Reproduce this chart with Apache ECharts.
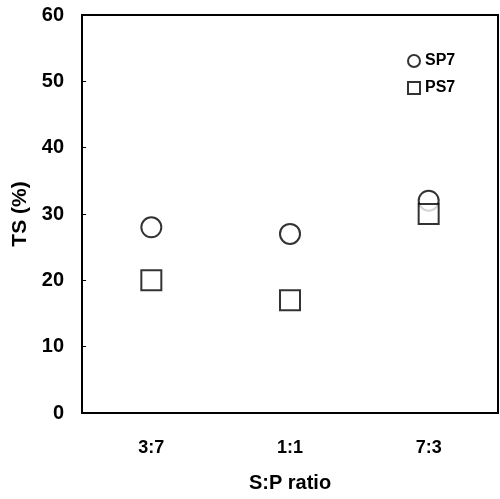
<!DOCTYPE html>
<html>
<head>
<meta charset="utf-8">
<script src="https://cdn.jsdelivr.net/npm/echarts@6/dist/echarts.min.js"></script>
<style>
  html, body { margin: 0; padding: 0; background: #fff; }
  #chart { width: 500px; height: 499px; }
</style>
</head>
<body>
<div id="chart"></div>
<script>
// S:P ratio categories
const categories = ['3:7', '1:1', '7:3'];
// TS (%) values
const sp7 = [28, 27, 32];
const ps7 = [20, 17, 30];
const yTicks = [0, 10, 20, 30, 40, 50, 60];

const chart = echarts.init(document.getElementById('chart'));
const font = 'Liberation Sans, Arial, sans-serif';

const option = {
    animation: false,
    grid: {
        left: 82,
        right: 2,
        top: 15,
        bottom: 86,
        show: true,
        borderColor: '#000',
        borderWidth: 2
    },
    legend: {
        orient: 'vertical',
        left: 402,
        top: 48,
        itemWidth: 12,
        itemHeight: 12,
        itemGap: 11,
        textStyle: { fontFamily: font, fontWeight: 'bold', fontSize: 16, color: '#000' },
        data: [
            { name: 'SP7', icon: 'circle' },
            { name: 'PS7', icon: 'rect' }
        ]
    },
    xAxis: {
        type: 'category',
        data: categories,
        name: 'S:P ratio',
        nameLocation: 'middle',
        nameGap: 60,
        nameTextStyle: { fontFamily: font, fontWeight: 'bold', fontSize: 20, color: '#000' },
        axisLine: { lineStyle: { color: '#000', width: 2 } },
        axisTick: { inside: true, length: 6, lineStyle: { color: '#000', width: 1 } },
        axisLabel: { fontFamily: font, fontWeight: 'bold', fontSize: 18, color: '#000', margin: 26 }
    },
    yAxis: {
        type: 'value',
        min: 0,
        max: 60,
        interval: 10,
        name: 'TS (%)',
        nameLocation: 'middle',
        nameGap: 49,
        nameTextStyle: { fontFamily: font, fontWeight: 'bold', fontSize: 21, color: '#000' },
        splitLine: { show: false },
        axisLine: { show: true, lineStyle: { color: '#000', width: 2 } },
        axisTick: { show: true, inside: true, length: 4, lineStyle: { color: '#000', width: 1 } },
        axisLabel: {
            fontFamily: font, fontWeight: 'bold', fontSize: 20, color: '#000', margin: 18,
            formatter: function (v) { return yTicks.indexOf(v) >= 0 ? String(v) : ''; }
        }
    },
    series: [
        {
            name: 'SP7',
            type: 'scatter',
            symbol: 'circle',
            symbolSize: 20,
            data: sp7,
            itemStyle: { color: '#fff', borderColor: '#000', borderWidth: 2 },
            z: 2
        },
        {
            name: 'PS7',
            type: 'scatter',
            symbol: 'rect',
            symbolSize: 20,
            data: ps7,
            itemStyle: { color: '#fff', borderColor: '#000', borderWidth: 2 },
            z: 3
        }
    ]
};
chart.setOption(option);
</script>
</body>
</html>
